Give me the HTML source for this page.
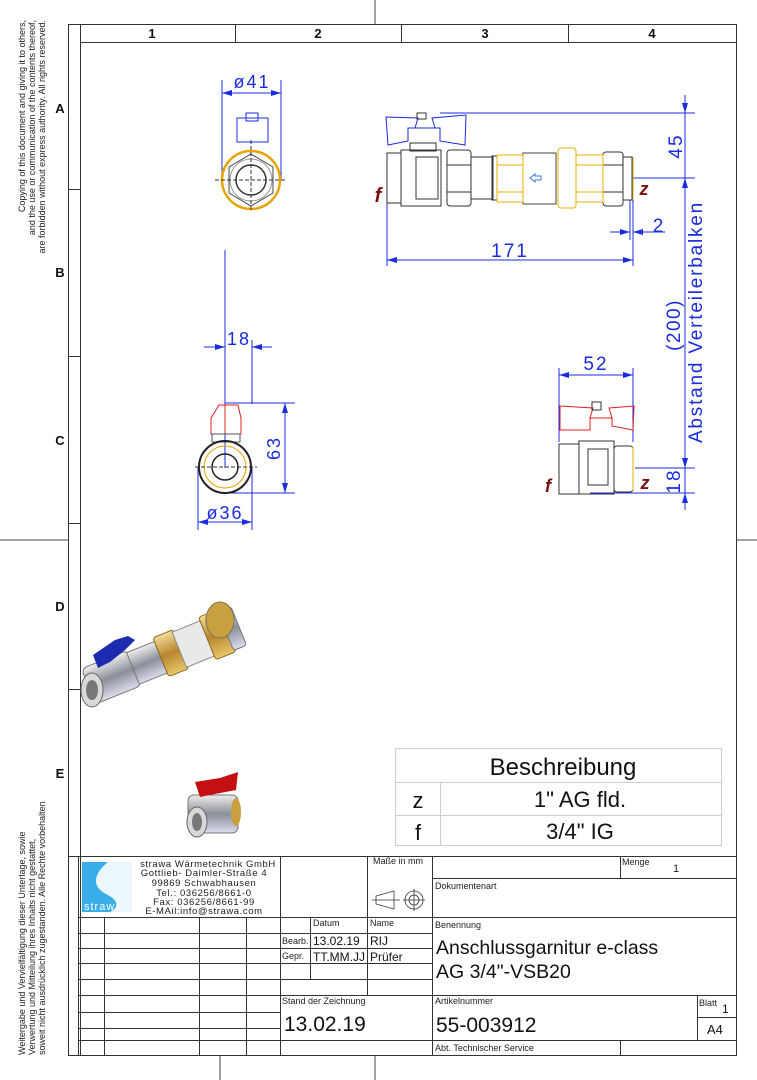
<!DOCTYPE html>
<html><head><meta charset="utf-8"><style>
html,body{margin:0;padding:0;background:#fff;}
svg{display:block;font-family:"Liberation Sans",Arial,sans-serif;}
.d{letter-spacing:2px;}
</style></head><body>
<svg width="757" height="1080" viewBox="0 0 757 1080" xmlns="http://www.w3.org/2000/svg">
<defs>
<marker id="a" markerWidth="10" markerHeight="6" refX="10" refY="3" orient="auto-start-reverse" markerUnits="userSpaceOnUse"><path d="M0,0 L10,3 L0,6 z" fill="#1a2be0"/></marker>
<linearGradient id="chrome" x1="0" y1="0" x2="0" y2="1"><stop offset="0" stop-color="#eee"/><stop offset=".5" stop-color="#8a8f99"/><stop offset="1" stop-color="#dde"/></linearGradient>
<linearGradient id="brass" x1="0" y1="0" x2="0" y2="1"><stop offset="0" stop-color="#f3dc9a"/><stop offset=".5" stop-color="#b8862e"/><stop offset="1" stop-color="#e8c76d"/></linearGradient>
</defs>
<g stroke="#444" stroke-width="1">
<line x1="375" y1="0" x2="375" y2="24"/>
<line x1="375" y1="1055" x2="375" y2="1080"/>
<line x1="220" y1="1055" x2="220" y2="1080"/>
<line x1="0" y1="540" x2="68" y2="540"/>
<line x1="736" y1="540" x2="757" y2="540"/>
</g>
<g fill="none" stroke="#333" stroke-width="1">
<rect x="68.5" y="24.5" width="668" height="1031"/>
<line x1="80.5" y1="24" x2="80.5" y2="1055"/>
<line x1="80" y1="42.5" x2="736" y2="42.5"/>
<line x1="235.5" y1="24" x2="235.5" y2="42"/>
<line x1="401.5" y1="24" x2="401.5" y2="42"/>
<line x1="568.5" y1="24" x2="568.5" y2="42"/>
<line x1="68" y1="189.5" x2="80" y2="189.5"/>
<line x1="68" y1="356.5" x2="80" y2="356.5"/>
<line x1="68" y1="523.5" x2="80" y2="523.5"/>
<line x1="68" y1="689.5" x2="80" y2="689.5"/>
<line x1="68" y1="856.5" x2="80" y2="856.5"/>
</g>
<g font-size="13" font-weight="bold" text-anchor="middle" fill="#111">
<text x="152" y="38">1</text><text x="318" y="38">2</text><text x="485" y="38">3</text><text x="652" y="38">4</text>
<text x="60" y="113">A</text><text x="60" y="277">B</text><text x="60" y="445">C</text><text x="60" y="611">D</text><text x="60" y="778">E</text>
</g>
<g font-size="9" fill="#222" text-anchor="end">
<text transform="translate(25,20) rotate(-90)">Copying of this document and giving it to others,</text>
<text transform="translate(35,20) rotate(-90)">and the use or communication of the contents thereof,</text>
<text transform="translate(45,20) rotate(-90)">are forbidden without express authority. All rights reserved.</text>
</g>
<g font-size="9" fill="#222" text-anchor="start">
<text transform="translate(25,1055) rotate(-90)">Weitergabe und Vervielfältigung dieser Unterlage, sowie</text>
<text transform="translate(35,1055) rotate(-90)">Verwertung und Mitteilung ihres Inhalts nicht gestattet,</text>
<text transform="translate(45,1055) rotate(-90)">soweit nicht ausdrücklich zugestanden. Alle Rechte vorbehalten</text>
</g>

<g stroke="#1a2be0" stroke-width="1" fill="none">
<line x1="222" y1="80" x2="222" y2="180"/>
<line x1="281" y1="80" x2="281" y2="180"/>
<line x1="222" y1="93" x2="281" y2="93" marker-start="url(#a)" marker-end="url(#a)"/>
<rect x="237" y="118" width="31" height="24"/>
<rect x="246" y="113" width="12" height="8"/>
</g>
<text x="252" y="88" font-size="18" fill="#1a2be0" text-anchor="middle" class="d">ø41</text>
<circle cx="251" cy="180" r="29" fill="none" stroke="#e9a400" stroke-width="2.5"/>
<polygon points="251,154 273,167 273,193 251,206 229,193 229,167" fill="none" stroke="#444"/>
<circle cx="251" cy="180" r="21" fill="none" stroke="#999"/>
<circle cx="251" cy="180" r="15" fill="none" stroke="#333" stroke-width="1.5"/>
<line x1="251" y1="140" x2="251" y2="212" stroke="#333" stroke-dasharray="4,2"/>
<line x1="215" y1="180" x2="287" y2="180" stroke="#333" stroke-dasharray="4,2"/>

<g stroke="#1a2be0" stroke-width="1" fill="none">
<line x1="225" y1="250" x2="225" y2="468"/>
<line x1="252" y1="340" x2="252" y2="404"/>
<line x1="204" y1="347" x2="225" y2="347" marker-end="url(#a)"/>
<line x1="272" y1="347" x2="252" y2="347" marker-end="url(#a)"/>
<line x1="225" y1="403" x2="295" y2="403"/>
<line x1="225" y1="493" x2="295" y2="493"/>
<line x1="285" y1="403" x2="285" y2="493" marker-start="url(#a)" marker-end="url(#a)"/>
<line x1="198" y1="467" x2="198" y2="530"/>
<line x1="252" y1="467" x2="252" y2="530"/>
<line x1="198" y1="522" x2="252" y2="522" marker-start="url(#a)" marker-end="url(#a)"/>
</g>
<text x="239" y="345" font-size="18" fill="#1a2be0" text-anchor="middle" class="d">18</text>
<text transform="translate(280,448) rotate(-90)" font-size="18" fill="#1a2be0" text-anchor="middle" class="d">63</text>
<text x="225" y="519" font-size="18" fill="#1a2be0" text-anchor="middle" class="d">ø36</text>
<g fill="none" stroke="#e02020" stroke-width="1">
<path d="M211,418 L219,405 L238,405 L241,418 L241,434 L211,434 Z"/>
<line x1="225" y1="405" x2="225" y2="434"/>
</g>
<rect x="212" y="434" width="28" height="8" fill="none" stroke="#555"/>
<circle cx="225" cy="467" r="26" fill="none" stroke="#222" stroke-width="2"/>
<circle cx="225" cy="467" r="21" fill="none" stroke="#e9a400"/>
<circle cx="225" cy="467" r="13" fill="none" stroke="#222" stroke-width="1.5"/>
<line x1="195" y1="467" x2="257" y2="467" stroke="#333" stroke-dasharray="4,2"/>

<g stroke="#1a2be0" stroke-width="1" fill="none">
<line x1="685" y1="95" x2="685" y2="500"/>
<line x1="440" y1="113" x2="695" y2="113"/>
<line x1="633" y1="178" x2="695" y2="178"/>
<line x1="685" y1="100" x2="685" y2="113" marker-end="url(#a)"/>
<line x1="685" y1="192" x2="685" y2="178" marker-end="url(#a)"/>
<line x1="387" y1="180" x2="387" y2="266"/>
<line x1="633" y1="200" x2="633" y2="266"/>
<line x1="630" y1="200" x2="630" y2="240"/>
<line x1="387" y1="260" x2="633" y2="260" marker-start="url(#a)" marker-end="url(#a)"/>
<line x1="610" y1="232" x2="630" y2="232" marker-end="url(#a)"/>
<line x1="665" y1="232" x2="633" y2="232" marker-end="url(#a)"/>
</g>
<text transform="translate(682,146) rotate(-90)" font-size="19" fill="#1a2be0" text-anchor="middle" class="d">45</text>
<text x="510" y="257" font-size="19" fill="#1a2be0" text-anchor="middle" class="d">171</text>
<text x="658" y="232" font-size="19" fill="#1a2be0" text-anchor="middle">2</text>
<text transform="translate(680,325) rotate(-90)" font-size="19" fill="#1a2be0" text-anchor="middle" letter-spacing="1.5">(200)</text>
<text transform="translate(702,322) rotate(-90)" font-size="19" fill="#1a2be0" text-anchor="middle" letter-spacing="1.8">Abstand Verteilerbalken</text>
<g fill="none" stroke="#333" stroke-width="1">
<rect x="387" y="153" width="14" height="50"/>
<rect x="401" y="150" width="40" height="56"/>
<rect x="416" y="157" width="22" height="42"/>
<rect x="410" y="143" width="26" height="8"/>
<rect x="447" y="150" width="24" height="56" rx="3"/>
<line x1="447" y1="165" x2="471" y2="165"/><line x1="447" y1="192" x2="471" y2="192"/>
<rect x="471" y="157" width="22" height="42"/>
<rect x="492" y="156" width="5" height="44"/>
<rect x="523" y="153" width="33" height="51" stroke="#444"/>
<rect x="603" y="152" width="20" height="54" rx="3"/>
<line x1="603" y1="165" x2="623" y2="165"/><line x1="603" y1="192" x2="623" y2="192"/>
<rect x="623" y="157" width="9" height="43"/>
</g>
<g fill="none" stroke="#e9b000" stroke-width="1">
<rect x="497" y="155" width="26" height="47"/>
<line x1="497" y1="165" x2="523" y2="165"/><line x1="497" y1="192" x2="523" y2="192"/>
<rect x="558" y="148" width="18" height="60" rx="3"/>
<rect x="576" y="155" width="27" height="47"/>
<line x1="576" y1="165" x2="603" y2="165"/><line x1="576" y1="192" x2="603" y2="192"/>
<line x1="633" y1="157" x2="633" y2="200"/>
</g>
<path d="M530,178 l5,-4 v2 h6 v4 h-6 v2 z" fill="none" stroke="#3a7ae0"/>
<path d="M386,117 L418,118 L415,128 L435,128 L432,118 L466,115 L465,145 L440,141 L440,128 L408,128 L408,141 L388,145 Z" fill="none" stroke="#1a2be0"/>
<rect x="417" y="113" width="9" height="6" fill="none" stroke="#333"/>
<text x="378" y="202" font-size="20" font-weight="bold" font-style="italic" fill="#7a1010" text-anchor="middle">f</text>
<text x="644" y="195" font-size="18" font-weight="bold" font-style="italic" fill="#7a1010" text-anchor="middle">z</text>

<g stroke="#1a2be0" stroke-width="1" fill="none">
<line x1="559" y1="368" x2="559" y2="442"/>
<line x1="633" y1="368" x2="633" y2="442"/>
<line x1="559" y1="375" x2="633" y2="375" marker-start="url(#a)" marker-end="url(#a)"/>
<line x1="635" y1="468" x2="695" y2="468"/>
<line x1="590" y1="493" x2="695" y2="493"/>
<line x1="685" y1="455" x2="685" y2="468" marker-end="url(#a)"/>
<line x1="685" y1="510" x2="685" y2="493" marker-end="url(#a)"/>
</g>
<text x="596" y="370" font-size="19" fill="#1a2be0" text-anchor="middle" class="d">52</text>
<text transform="translate(680,481) rotate(-90)" font-size="19" fill="#1a2be0" text-anchor="middle" class="d">18</text>
<path d="M560,406 L593,408 L590,418 L612,418 L609,408 L634,406 L633,430 L612,426 L612,418 L590,418 L590,430 L560,430 Z" fill="none" stroke="#e02020"/>
<g fill="none" stroke="#333">
<rect x="592" y="402" width="9" height="8"/>
<rect x="559" y="444" width="20" height="50"/>
<rect x="579" y="441" width="35" height="53"/>
<rect x="588" y="449" width="20" height="36"/>
<rect x="614" y="446" width="19" height="46" rx="3"/>
</g>
<line x1="633" y1="447" x2="633" y2="491" stroke="#e9b000"/>
<text x="548" y="492" font-size="18" font-weight="bold" font-style="italic" fill="#7a1010" text-anchor="middle">f</text>
<text x="645" y="489" font-size="18" font-weight="bold" font-style="italic" fill="#7a1010" text-anchor="middle">z</text>

<g>
<g transform="rotate(-22 160 650)">
<rect x="80" y="638" width="50" height="38" rx="6" fill="url(#chrome)" stroke="#777"/>
<rect x="128" y="640" width="30" height="34" fill="url(#chrome)" stroke="#777"/>
<rect x="158" y="636" width="22" height="42" rx="3" fill="url(#brass)" stroke="#8a6a20"/>
<rect x="178" y="638" width="32" height="38" fill="#e9e9e9" stroke="#888"/>
<rect x="208" y="634" width="22" height="46" rx="3" fill="url(#brass)" stroke="#8a6a20"/>
<rect x="228" y="636" width="14" height="42" rx="3" fill="url(#chrome)" stroke="#777"/>
</g>
<ellipse cx="92" cy="690" rx="11" ry="17" fill="#d8d8d8" stroke="#666"/>
<ellipse cx="92" cy="690" rx="6" ry="10" fill="#777"/>
<path d="M93,655 L115,640 L128,636 L135,640 L125,650 L110,662 L98,668 Z" fill="#1c2bb0"/>
<ellipse cx="220" cy="620" rx="14" ry="18" fill="#c8a040" stroke="#775"/>
</g>
<g>
<rect x="188" y="795" width="50" height="38" rx="6" fill="url(#chrome)" stroke="#777"/>
<ellipse cx="197" cy="822" rx="10" ry="15" fill="#d8d8d8" stroke="#666"/>
<ellipse cx="197" cy="822" rx="5" ry="9" fill="#777"/>
<path d="M195,782 L220,778 L238,772 L236,790 L215,794 L200,797 Z" fill="#c41010"/>
<ellipse cx="236" cy="812" rx="5" ry="14" fill="#c8a040"/>
</g>

<g fill="none" stroke="#ccc" stroke-width="1">
<rect x="395.5" y="748.5" width="326" height="97"/>
<line x1="395" y1="782.5" x2="722" y2="782.5"/>
<line x1="395" y1="815.5" x2="722" y2="815.5"/>
<line x1="440.5" y1="782" x2="440.5" y2="846"/>
</g>
<g fill="#111" text-anchor="middle">
<text x="563" y="775" font-size="24">Beschreibung</text>
<text x="418" y="808" font-size="22">z</text>
<text x="580" y="807" font-size="22">1" AG fld.</text>
<text x="418" y="840" font-size="22">f</text>
<text x="580" y="839" font-size="22">3/4" IG</text>
</g>

<g fill="none" stroke="#333" stroke-width="1">
<rect x="78.5" y="856.5" width="658" height="199"/>
<line x1="78" y1="917.5" x2="736" y2="917.5"/>
<line x1="280.5" y1="856" x2="280.5" y2="1055"/>
<line x1="367.5" y1="856" x2="367.5" y2="995"/>
<line x1="432.5" y1="856" x2="432.5" y2="1055"/>
<line x1="620.5" y1="856" x2="620.5" y2="878"/>
<line x1="432" y1="878.5" x2="736" y2="878.5"/>
<line x1="432" y1="995.5" x2="736" y2="995.5"/>
<line x1="432" y1="1040.5" x2="736" y2="1040.5"/>
<line x1="620.5" y1="1040" x2="620.5" y2="1055"/>
<line x1="697.5" y1="995" x2="697.5" y2="1040"/>
<line x1="697" y1="1017.5" x2="736" y2="1017.5"/>
<line x1="104.5" y1="917" x2="104.5" y2="1055"/>
<line x1="199.5" y1="917" x2="199.5" y2="1055"/>
<line x1="246.5" y1="917" x2="246.5" y2="1055"/>
<line x1="310.5" y1="917" x2="310.5" y2="979"/>
<line x1="78" y1="933.5" x2="280" y2="933.5"/>
<line x1="78" y1="948.5" x2="432" y2="948.5"/>
<line x1="78" y1="963.5" x2="432" y2="963.5"/>
<line x1="78" y1="979.5" x2="432" y2="979.5"/>
<line x1="78" y1="995.5" x2="432" y2="995.5"/>
<line x1="78" y1="1012.5" x2="280" y2="1012.5"/>
<line x1="78" y1="1028.5" x2="280" y2="1028.5"/>
<line x1="78" y1="1040.5" x2="432" y2="1040.5"/>
<line x1="280" y1="933.5" x2="432" y2="933.5"/>
</g>
<rect x="82" y="862" width="50" height="50" fill="#3aaee8"/>
<path d="M108,862 C92,875 92,888 108,895 C120,902 118,908 110,912 L132,912 L132,862 Z" fill="#fff" opacity=".9"/>
<text x="84" y="910" font-size="11" fill="#fff" letter-spacing="1">strawa</text>
<g font-size="9.5" fill="#222" text-anchor="middle" letter-spacing="0.6">
<text x="208" y="867">strawa Wärmetechnik GmbH</text>
<text x="204" y="876">Gottlieb- Daimler-Straße 4</text>
<text x="204" y="886">99869 Schwabhausen</text>
<text x="204" y="896">Tel.: 036256/8661-0</text>
<text x="204" y="905">Fax: 036256/8661-99</text>
<text x="204" y="914">E-MAil:info@strawa.com</text>
</g>
<text x="373" y="864" font-size="9" fill="#222">Maße in mm</text>
<path d="M376,896 L394,891 L394,909 L376,904 Z M372,900 L400,900" fill="none" stroke="#333" stroke-width="0.8"/>
<circle cx="414" cy="900" r="9" fill="none" stroke="#333" stroke-width="0.8"/>
<circle cx="414" cy="900" r="5" fill="none" stroke="#333" stroke-width="0.8"/>
<path d="M403,900 L425,900 M414,889 L414,911" stroke="#333" stroke-width="0.8"/>
<g font-size="9" fill="#222">
<text x="622" y="865">Menge</text>
<text x="673" y="872" font-size="11">1</text>
<text x="435" y="889">Dokumentenart</text>
<text x="313" y="926">Datum</text>
<text x="370" y="926">Name</text>
<text x="435" y="928">Benennung</text>
<text x="282" y="944">Bearb.</text>
<text x="282" y="959">Gepr.</text>
<text x="282" y="1004">Stand der Zeichnung</text>
<text x="435" y="1004">Artikelnummer</text>
<text x="699" y="1006">Blatt</text>
<text x="435" y="1051">Abt. Technischer Service</text>
</g>
<g font-size="12" fill="#111">
<text x="313" y="945">13.02.19</text>
<text x="370" y="945">RIJ</text>
<text x="313" y="961">TT.MM.JJ</text>
<text x="370" y="961">Prüfer</text>
<text x="722" y="1013">1</text>
<text x="707" y="1034" font-size="13">A4</text>
</g>
<text x="436" y="954" font-size="19.5" fill="#111">Anschlussgarnitur e-class</text>
<text x="436" y="978" font-size="19.5" fill="#111">AG 3/4"-VSB20</text>
<text x="284" y="1031" font-size="21" fill="#111">13.02.19</text>
<text x="436" y="1032" font-size="21" fill="#111">55-003912</text>
</svg>
</body></html>
